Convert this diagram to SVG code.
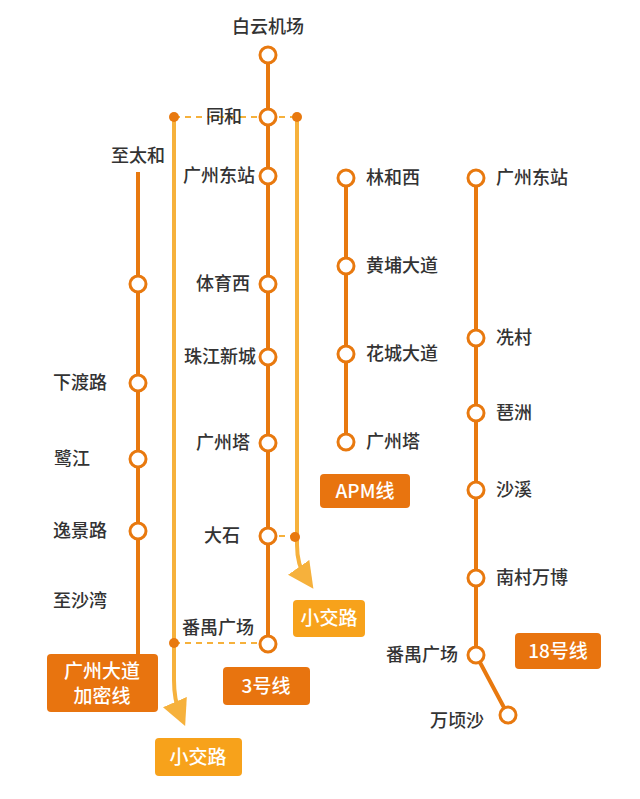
<svg xmlns="http://www.w3.org/2000/svg" width="640" height="799" viewBox="0 0 640 799">
<style>
text{font-family:"Noto Sans CJK SC","Liberation Sans",sans-serif;font-size:18px;fill:#333;font-weight:500}
.l{stroke:#E8790F;stroke-width:4;fill:none}
.y{stroke:#F6B13C;stroke-width:4;fill:none}
.d{stroke:#F6B13C;stroke-width:2;stroke-dasharray:6 5;fill:none}
.s{fill:#fff;stroke:#E8790F;stroke-width:3}
.dot{fill:#E8790F}
.bx{fill:#E8740F}
.by{fill:#F7A21B}
.bt{fill:#fff;font-size:19px;text-anchor:middle}
</style>
<defs><marker id="ar" viewBox="0 0 10 10" refX="5" refY="5" markerWidth="6.5" markerHeight="6.5" orient="auto" markerUnits="strokeWidth"><path d="M0,0L10,5L0,10z" fill="#F6B13C"/></marker></defs>
<g id="connectors">
<path class="y" d="M174,117V680Q174,700 180,714" marker-end="url(#ar)"/>
<path class="y" d="M297,117V545Q297,565 306,578" marker-end="url(#ar)"/>
<path class="d" d="M174,117H268M268,117H297M268,536H297M174,643H268"/>
<path class="l" d="M268,55V644"/>
<path class="l" d="M138,172V655"/>
<path class="l" d="M346,178V442"/>
<path class="l" d="M476,178V655L508,715"/>
<circle class="dot" cx="174" cy="117" r="5"/><circle class="dot" cx="297" cy="117" r="5"/>
<circle class="dot" cx="295" cy="537" r="5"/><circle class="dot" cx="174" cy="643" r="5"/>
</g>
<g id="line3">
<circle class="s" cx="268" cy="55" r="8"/><text x="268" y="33" text-anchor="middle">白云机场</text>
<circle class="s" cx="268" cy="117" r="8"/><text x="242" y="123" text-anchor="end">同和</text>
<circle class="s" cx="268" cy="176" r="8"/><text x="255" y="182" text-anchor="end">广州东站</text>
<circle class="s" cx="268" cy="284" r="8"/><text x="250" y="290" text-anchor="end">体育西</text>
<circle class="s" cx="268" cy="357" r="8"/><text x="256" y="363" text-anchor="end">珠江新城</text>
<circle class="s" cx="268" cy="443" r="8"/><text x="250" y="449" text-anchor="end">广州塔</text>
<circle class="s" cx="268" cy="536" r="8"/><text x="240" y="542" text-anchor="end">大石</text>
<circle class="s" cx="268" cy="644" r="8"/><text x="218" y="634" text-anchor="middle">番禺广场</text>
<rect class="bx" x="223" y="667" width="87" height="38" rx="4"/><text class="bt" x="266" y="693">3号线</text>
</g>
<g id="line-gzdd">
<text x="138" y="162" text-anchor="middle">至太和</text>
<circle class="s" cx="138" cy="284" r="8"/>
<circle class="s" cx="138" cy="383" r="8"/><text x="107" y="389" text-anchor="end">下渡路</text>
<circle class="s" cx="138" cy="459" r="8"/><text x="90" y="465" text-anchor="end">鹭江</text>
<circle class="s" cx="138" cy="531" r="8"/><text x="107" y="537" text-anchor="end">逸景路</text>
<text x="107" y="607" text-anchor="end">至沙湾</text>
<rect class="bx" x="47" y="654" width="111" height="58" rx="4"/><text class="bt" x="102" y="678">广州大道</text><text class="bt" x="102" y="703">加密线</text>
</g>
<g id="apm">
<circle class="s" cx="346" cy="178" r="8"/><text x="366" y="184">林和西</text>
<circle class="s" cx="346" cy="266" r="8"/><text x="366" y="272">黄埔大道</text>
<circle class="s" cx="346" cy="354" r="8"/><text x="366" y="360">花城大道</text>
<circle class="s" cx="346" cy="442" r="8"/><text x="366" y="448">广州塔</text>
<rect class="bx" x="320" y="474" width="90" height="34" rx="4"/><text class="bt" x="365" y="498">APM线</text>
</g>
<g id="line18">
<circle class="s" cx="476" cy="178" r="8"/><text x="496" y="184">广州东站</text>
<circle class="s" cx="476" cy="338" r="8"/><text x="496" y="344">冼村</text>
<circle class="s" cx="476" cy="413" r="8"/><text x="496" y="419">琶洲</text>
<circle class="s" cx="476" cy="490" r="8"/><text x="496" y="496">沙溪</text>
<circle class="s" cx="476" cy="578" r="8"/><text x="496" y="584">南村万博</text>
<circle class="s" cx="476" cy="655" r="8"/><text x="458" y="661" text-anchor="end">番禺广场</text>
<circle class="s" cx="508" cy="715" r="8"/><text x="484" y="727" text-anchor="end">万顷沙</text>
<rect class="bx" x="515" y="633" width="86" height="36" rx="4"/><text class="bt" x="558" y="658">18号线</text>
</g>
<g id="short">
<rect class="by" x="293" y="600" width="72" height="37" rx="4"/><text class="bt" x="329" y="625">小交路</text>
<rect class="by" x="155" y="738" width="87" height="38" rx="4"/><text class="bt" x="198" y="764">小交路</text>
</g>
</svg>
